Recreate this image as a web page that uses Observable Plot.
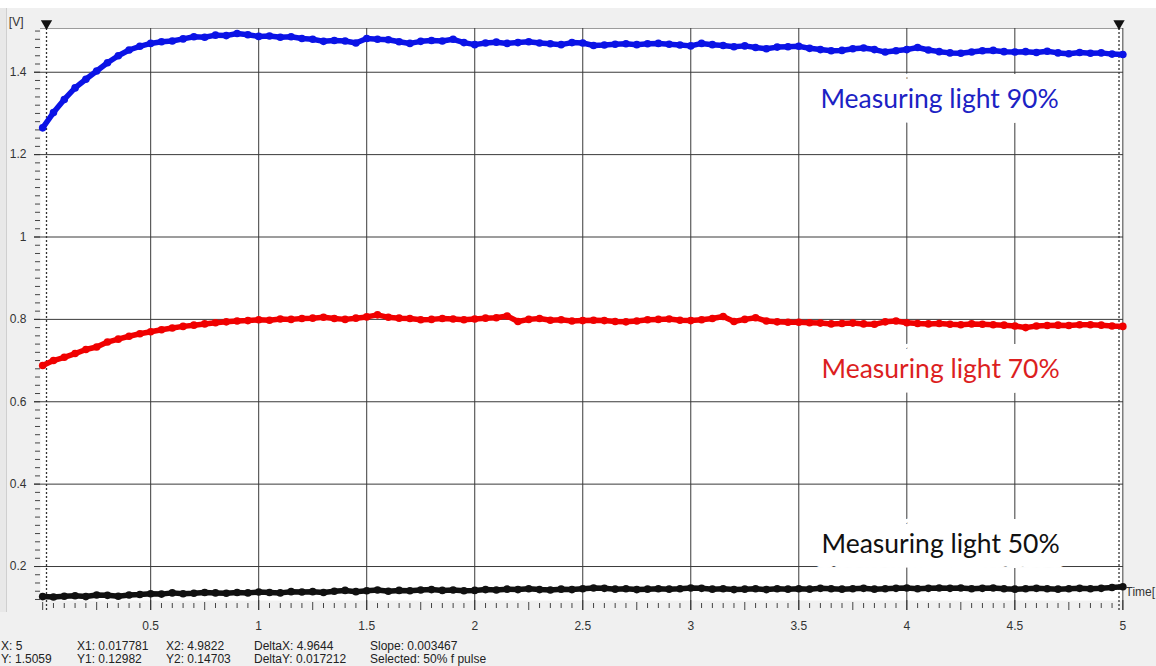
<!DOCTYPE html>
<html>
<head>
<meta charset="utf-8">
<script src="https://cdn.jsdelivr.net/npm/d3@7"></script>
<script src="https://cdn.jsdelivr.net/npm/@observablehq/plot@0.6"></script>
<style>
  html, body { margin: 0; padding: 0; background: #ffffff; overflow: hidden; }
  #wrap { position: relative; width: 1156px; height: 666px; overflow: hidden; background: #f0f0f0; }
  #chart { position: absolute; left: 0; top: 0; }
  .strip-top { position: absolute; left: 0; top: 0; width: 1156px; height: 8px; background: #ffffff; }
  .strip-left { position: absolute; left: 0; top: 8px; width: 6px; height: 604px; background: #e8e8e8; border-right: 1px solid #cfcfcf; }
  .status { position: absolute; font-family: 'Liberation Sans', Arial, sans-serif; font-size: 12px; line-height: 13px; color: #222; white-space: nowrap; }
</style>
</head>
<body>
<div id="wrap">
  <div id="chart"></div>
  <div class="strip-top"></div>
  <div class="strip-left"></div>
</div>
<script>
// ---- data ----
const seriesNames = ["Measuring light 90%", "Measuring light 70%", "Measuring light 50%"];
const seriesColors = ["#0b13e6", "#f00000", "#111111"];
const labelColors = ["#1c22c4", "#dc1f1f", "#111111"];
const labelX = [3.6, 3.605, 3.605];
const labelY = [1.314, 0.658, 0.234];

// samples every 0.05 s from 0 to 5 s
const time = d3.range(101).map(i => +(i * 0.05).toFixed(2));

const light90 = [
  1.265, 1.302, 1.334, 1.362, 1.383, 1.403, 1.423, 1.440, 1.454, 1.463,
  1.470, 1.474, 1.476, 1.481, 1.486, 1.485, 1.490, 1.489, 1.494, 1.491,
  1.487, 1.488, 1.485, 1.486, 1.482, 1.480, 1.475, 1.477, 1.476, 1.471,
  1.482, 1.480, 1.479, 1.474, 1.470, 1.475, 1.477, 1.476, 1.480, 1.472,
  1.467, 1.471, 1.473, 1.470, 1.472, 1.474, 1.471, 1.469, 1.467, 1.472,
  1.471, 1.465, 1.466, 1.468, 1.469, 1.467, 1.469, 1.470, 1.468, 1.466,
  1.464, 1.470, 1.467, 1.465, 1.462, 1.464, 1.460, 1.457, 1.461, 1.462,
  1.463, 1.458, 1.455, 1.452, 1.453, 1.457, 1.459, 1.455, 1.449, 1.452,
  1.455, 1.460, 1.454, 1.450, 1.447, 1.446, 1.449, 1.452, 1.453, 1.450,
  1.449, 1.450, 1.448, 1.451, 1.447, 1.445, 1.448, 1.446, 1.447, 1.444,
  1.443
];
const light70 = [
  0.688, 0.700, 0.708, 0.717, 0.727, 0.733, 0.745, 0.752, 0.759, 0.765,
  0.770, 0.775, 0.779, 0.783, 0.786, 0.789, 0.792, 0.794, 0.796, 0.797,
  0.799, 0.798, 0.801, 0.800, 0.802, 0.803, 0.805, 0.802, 0.800, 0.803,
  0.806, 0.811, 0.805, 0.803, 0.802, 0.799, 0.800, 0.802, 0.801, 0.799,
  0.801, 0.803, 0.804, 0.808, 0.795, 0.800, 0.802, 0.798, 0.799, 0.796,
  0.797, 0.798, 0.797, 0.795, 0.794, 0.796, 0.799, 0.800, 0.801, 0.798,
  0.797, 0.799, 0.802, 0.807, 0.795, 0.800, 0.804, 0.796, 0.794, 0.793,
  0.793, 0.792, 0.791, 0.789, 0.790, 0.791, 0.789, 0.788, 0.794, 0.796,
  0.792, 0.790, 0.789, 0.790, 0.788, 0.787, 0.789, 0.788, 0.787, 0.786,
  0.784, 0.780, 0.784, 0.785, 0.786, 0.785, 0.787, 0.787, 0.786, 0.784,
  0.783
];
const light50 = [
  0.127, 0.126, 0.128, 0.129, 0.127, 0.131, 0.130, 0.128, 0.131, 0.132,
  0.134, 0.133, 0.136, 0.134, 0.135, 0.137, 0.136, 0.135, 0.137, 0.136,
  0.138, 0.137, 0.136, 0.139, 0.138, 0.139, 0.137, 0.140, 0.142, 0.139,
  0.141, 0.143, 0.140, 0.142, 0.141, 0.143, 0.144, 0.142, 0.143, 0.141,
  0.142, 0.144, 0.143, 0.145, 0.144, 0.146, 0.144, 0.143, 0.145, 0.144,
  0.146, 0.148, 0.147, 0.145, 0.146, 0.144, 0.145, 0.146, 0.145, 0.146,
  0.148, 0.147, 0.145, 0.146, 0.144, 0.145, 0.146, 0.144, 0.146, 0.145,
  0.146, 0.145, 0.147, 0.146, 0.145, 0.146, 0.147, 0.145, 0.146, 0.147,
  0.148, 0.146, 0.147, 0.148, 0.147, 0.148, 0.146, 0.147, 0.148, 0.146,
  0.145, 0.146, 0.147, 0.146, 0.145, 0.146, 0.147, 0.146, 0.147, 0.149,
  0.151
];

// axes
const xMajor = [0.5, 1, 1.5, 2, 2.5, 3, 3.5, 4, 4.5, 5];
const xTickLabels = ["0.5", "1", "1.5", "2", "2.5", "3", "3.5", "4", "4.5", "5"];
const yMajor = [0.2, 0.4, 0.6, 0.8, 1, 1.2, 1.4];
const yTickLabels = ["0.2", "0.4", "0.6", "0.8", "1", "1.2", "1.4"];
const xDomain = [-0.01, 5.003];
const yDomain = [0.1175, 1.5062];
const xLabel = "Time[";
const yLabel = "[V]";

// cursors and status bar
const cursorX = [0.017781, 4.9822];
const statusRow1 = ["X: 5", "X1: 0.017781", "X2: 4.9822", "DeltaX: 4.9644", "Slope: 0.003467"];
const statusRow2 = ["Y: 1.5059", "Y1: 0.12982", "Y2: 0.14703", "DeltaY: 0.017212", "Selected: 50% f pulse"];

// ---- build ----
const allSeries = [light90, light70, light50];
const rows = [];
allSeries.forEach((vals, s) => vals.forEach((v, i) => rows.push({t: time[i], v, s: seriesNames[s]})));

const xMinor = d3.range(0, 101).map(i => +(i * 0.05).toFixed(2)).filter(v => Math.abs(v * 4 - Math.round(v * 4)) > 1e-6);
const xMid = d3.range(0, 21).map(i => +(i * 0.25).toFixed(2)).filter(v => Math.abs(v * 2 - Math.round(v * 2)) > 1e-6 || v === 0);
const yMinor = d3.range(6, 76).map(i => +(i * 0.02).toFixed(2)).filter(v => Math.abs(v * 5 - Math.round(v * 5)) > 1e-6);

const labels = seriesNames.map((s, i) => ({text: s, x: labelX[i], y: labelY[i]}));

const chart = Plot.plot({
  width: 1156,
  height: 666,
  marginLeft: 40,
  marginRight: 33,
  marginTop: 28,
  marginBottom: 66,
  x: {domain: xDomain},
  y: {domain: yDomain},
  color: {domain: seriesNames, range: seriesColors},
  style: {background: "#f0f0f0", fontFamily: "'Liberation Sans', Arial, sans-serif", fontSize: "12px", color: "#2a2a2a"},
  marks: [
    Plot.frame({fill: "white", stroke: "none"}),
    Plot.ruleY([yDomain[1]], {stroke: "#9c9c9c"}),
    Plot.ruleX(xMajor, {stroke: "#3a3a3a", strokeWidth: 1, insetBottom: -10}),
    Plot.ruleY(yMajor, {stroke: "#3a3a3a", strokeWidth: 1, insetLeft: -6}),
    Plot.axisX({ticks: xMinor, tickSize: 5, fill: "none", color: "#444", dy: 3}),
    Plot.axisX({ticks: xMid, tickSize: 8, fill: "none", color: "#444", dy: 2}),
    Plot.axisX({ticks: xMajor, tickSize: 10, tickPadding: 11, tickFormat: (d, i) => xTickLabels[i], color: "#333"}),
    Plot.axisY({ticks: yMinor, tickSize: 5, fill: "none", color: "#444"}),
    Plot.axisY({ticks: yMajor, tickSize: 6, tickPadding: 8, tickFormat: (d, i) => yTickLabels[i], color: "#333"}),
    Plot.ruleX(cursorX, {stroke: "#333", strokeWidth: 1.3, strokeDasharray: "2,2", insetTop: -4, insetBottom: -10}),
    Plot.dot(cursorX, {x: d => d, frameAnchor: "top", dy: -5, symbol: "triangle", rotate: 180, r: 4.2, fill: "#111", stroke: "none"}),
    ...labels.map((d, i) => Plot.text([d], {
      x: "x", y: "y", text: "text", fill: labelColors[i], stroke: "white", strokeWidth: 30, strokeLinejoin: "round",
      textAnchor: "start", lineAnchor: "bottom", fontSize: 26.5, fontFamily: "Lato, 'Open Sans', sans-serif"
    })),
    Plot.line(rows, {x: "t", y: "v", z: "s", stroke: "s", strokeWidth: 5.5}),
    Plot.dot(rows, {x: "t", y: "v", fill: "s", r: 3.8, stroke: "none"}),
    Plot.text([xLabel], {frameAnchor: "bottom-right", text: d => d, dx: 2, dy: -5, textAnchor: "start", fill: "#333"}),
    Plot.text([yLabel], {frameAnchor: "top-left", text: d => d, dx: -17, dy: -3, textAnchor: "end", lineAnchor: "bottom", fill: "#333"})
  ]
});
document.getElementById("chart").appendChild(chart);

// status bar (two text rows under the axis)
const colX = [1, 77, 166, 254, 370];
const wrap = document.getElementById("wrap");
[statusRow1, statusRow2].forEach((row, r) => {
  row.forEach((txt, c) => {
    const el = document.createElement("div");
    el.className = "status";
    el.textContent = txt;
    el.style.left = colX[c] + "px";
    el.style.top = (640 + r * 13) + "px";
    wrap.appendChild(el);
  });
});
</script>
</body>
</html>
